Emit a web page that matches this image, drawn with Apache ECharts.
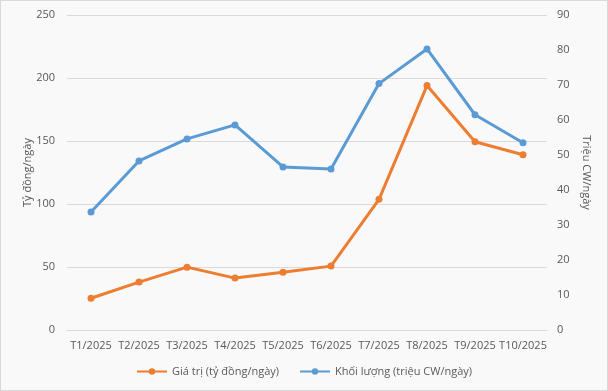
<!DOCTYPE html>
<html><head><meta charset="utf-8">
<script src="https://cdn.jsdelivr.net/npm/echarts@6/dist/echarts.min.js"></script>
<style>html,body{margin:0;padding:0;background:#fff}#c{width:606px;height:389px;border:1px solid #d9d9d9;background:#f9f9f9}</style>
</head><body><div id="c"></div>
<script>
const categories = ['T1/2025','T2/2025','T3/2025','T4/2025','T5/2025','T6/2025','T7/2025','T8/2025','T9/2025','T10/2025'];
const valueSeries = [25.2, 38, 49.9, 41.2, 45.9, 50.7, 103.7, 194, 149.4, 139.1];
const volumeSeries = [33.7, 48.3, 54.6, 58.6, 46.6, 46.0, 70.4, 80.3, 61.5, 53.5];
const valueName = 'Giá trị (tỷ đồng/ngày)';
const volumeName = 'Khối lượng (triệu CW/ngày)';
const leftTitle = 'Tỷ đồng/ngày';
const rightTitle = 'Triệu CW/ngày';

const font = "'Open Sans', 'Noto Sans', sans-serif";
const txt = '#595959';
const chart = echarts.init(document.getElementById('c'));
chart.setOption({
  animation: false,
  textStyle: {fontFamily: font},
  grid: {left: 66, right: 60, top: 14, bottom: 60},
  legend: {
    bottom: 8, left: 'center', itemWidth: 30, itemHeight: 8, itemGap: 20,
    textStyle: {color: txt, fontSize: 11, fontFamily: font},
    data: [valueName, volumeName]
  },
  xAxis: {
    type: 'category', data: categories, boundaryGap: true,
    axisLine: {show: true, lineStyle: {color: '#d9d9d9'}},
    axisTick: {show: false},
    axisLabel: {color: txt, fontSize: 11, margin: 10, interval: 0}
  },
  yAxis: [
    {type: 'value', min: 0, max: 250, interval: 50,
     name: leftTitle, nameLocation: 'middle', nameGap: 34, nameRotate: 90,
     nameMoveOverlap: false,
     nameTextStyle: {color: txt, fontSize: 11},
     axisLabel: {color: txt, fontSize: 11, margin: 12},
     splitLine: {lineStyle: {color: '#d9d9d9'}},
     axisLine: {show: false}, axisTick: {show: false}},
    {type: 'value', min: 0, max: 90, interval: 10, position: 'right',
     name: rightTitle, nameLocation: 'middle', nameGap: 34, nameRotate: -90,
     nameMoveOverlap: false,
     nameTextStyle: {color: txt, fontSize: 11},
     axisLabel: {color: txt, fontSize: 11, margin: 10},
     splitLine: {show: false},
     axisLine: {show: false}, axisTick: {show: false}}
  ],
  series: [
    {name: valueName, type: 'line', yAxisIndex: 0, data: valueSeries,
     color: '#ED7D31', symbol: 'circle', symbolSize: 7,
     lineStyle: {width: 3, color: '#ED7D31'}, itemStyle: {color: '#ED7D31'}},
    {name: volumeName, type: 'line', yAxisIndex: 1, data: volumeSeries,
     color: '#5B9BD5', symbol: 'circle', symbolSize: 7,
     lineStyle: {width: 3, color: '#5B9BD5'}, itemStyle: {color: '#5B9BD5'}}
  ]
});
</script></body></html>
